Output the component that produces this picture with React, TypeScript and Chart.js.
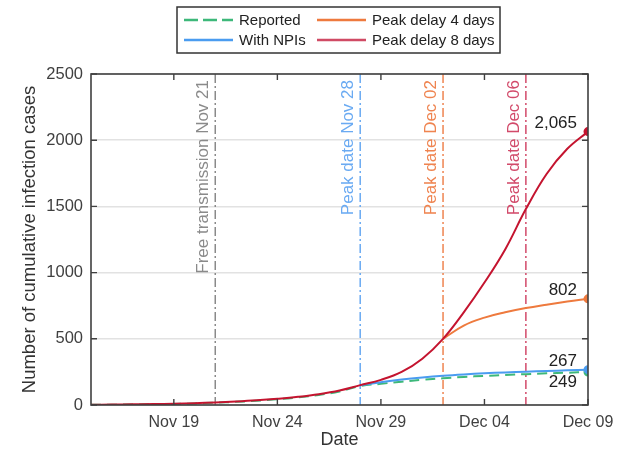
import React, { useEffect, useRef } from "react";
import { Chart, registerables } from "chart.js";

Chart.register(...registerables);

// ---------- data ----------
const dates = [
  "Nov 15", "Nov 16", "Nov 17", "Nov 18", "Nov 19", "Nov 20", "Nov 21", "Nov 22",
  "Nov 23", "Nov 24", "Nov 25", "Nov 26", "Nov 27", "Nov 28", "Nov 29", "Nov 30",
  "Dec 01", "Dec 02", "Dec 03", "Dec 04", "Dec 05", "Dec 06", "Dec 07", "Dec 08", "Dec 09",
];
const tickLabels = ["Nov 19", "Nov 24", "Nov 29", "Dec 04", "Dec 09"];
const yTickStep = 500;
const yMax = 2500;

const reported = [
  1, 2, 4, 6, 8, 12, 17, 24, 32, 43, 57, 76, 102, 143, 160, 176,
  190, 202, 212, 220, 227, 233, 239, 244, 249,
];
const withNPIs = [
  null, null, null, null, null, null, null, null, null, null, null, null, null, 150, 172, 192,
  208, 221, 231, 239, 246, 252, 257, 262, 267,
];
const peakDelay4 = [
  null, null, null, null, null, null, null, null, null, null, null, null, null, null, null, null,
  null, 500, 600, 660, 700, 732, 758, 782, 802,
];
const peakDelay8 = [
  1, 3, 5, 7, 10, 14, 19, 26, 35, 47, 62, 82, 110, 150, 190, 250,
  350, 500, 700, 925, 1175, 1480, 1745, 1935, 2065,
];

const eventDates = ["Nov 21", "Nov 28", "Dec 02", "Dec 06"];
const eventLabels = ["Free transmission Nov 21", "Peak date Nov 28", "Peak date Dec 02", "Peak date Dec 06"];

// ---------- styles ----------
const FONT = '"Liberation Sans", Arial, sans-serif';
const C_GREEN = "#3db87a";
const C_BLUE = "#4a9cf0";
const C_ORANGE = "#ee7a3e";
const C_RED = "#c4142f";
const eventColors = ["#8a8a8a", "#6aaaf2", "#ef8450", "#d24a6a"];
const endLabelBelow = [true, false, false, false]; // reported, NPIs, d4, d8

const toXY = (arr: (number | null)[]) => arr.map((v, i) => ({ x: i, y: v }));

export default function App() {
  const ref = useRef<HTMLCanvasElement | null>(null);

  useEffect(() => {
    document.body.style.margin = "0";
    const canvas = ref.current!;
    const last = dates.length - 1;

    const eventPlugin = {
      id: "eventLines",
      beforeDatasetsDraw(chart: any) {
        const { ctx, chartArea } = chart;
        const xs = chart.scales.x;
        eventDates.forEach((d, k) => {
          const px = xs.getPixelForValue(dates.indexOf(d));
          ctx.save();
          ctx.strokeStyle = eventColors[k];
          ctx.lineWidth = 1.5;
          ctx.setLineDash([9, 3, 2, 3]);
          ctx.beginPath();
          ctx.moveTo(px, chartArea.top);
          ctx.lineTo(px, chartArea.bottom);
          ctx.stroke();
          ctx.setLineDash([]);
          ctx.translate(px - 7, chartArea.top + 6);
          ctx.rotate(-Math.PI / 2);
          ctx.fillStyle = eventColors[k];
          ctx.font = `17px ${FONT}`;
          ctx.textAlign = "right";
          ctx.textBaseline = "alphabetic";
          ctx.fillText(eventLabels[k], 0, 0);
          ctx.restore();
        });
      },
    };

    const endLabelPlugin = {
      id: "endLabels",
      afterDatasetsDraw(chart: any) {
        const { ctx } = chart;
        const xs = chart.scales.x;
        const ys = chart.scales.y;
        const series = [reported, withNPIs, peakDelay4, peakDelay8];
        ctx.save();
        ctx.font = `17px ${FONT}`;
        ctx.fillStyle = "#222";
        ctx.textAlign = "right";
        series.forEach((s, k) => {
          const v = s[last] as number;
          const px = xs.getPixelForValue(last);
          const py = ys.getPixelForValue(v);
          const txt = v.toLocaleString("en-US");
          if (endLabelBelow[k]) {
            ctx.textBaseline = "top";
            ctx.fillText(txt, px - 11, py + 2);
          } else {
            ctx.textBaseline = "alphabetic";
            ctx.fillText(txt, px - 11, py - 4);
          }
        });
        ctx.restore();
      },
    };

    const framePlugin = {
      id: "frame",
      afterDraw(chart: any) {
        const { ctx, chartArea } = chart;
        const { left, right, top, bottom } = chartArea;
        const xs = chart.scales.x;
        const ys = chart.scales.y;
        ctx.save();
        ctx.strokeStyle = "#404040";
        ctx.lineWidth = 1.6;
        ctx.strokeRect(left, top, right - left, bottom - top);
        ctx.lineWidth = 1.4;
        const tl = 6;
        ctx.beginPath();
        xs.ticks.forEach((t: any) => {
          const px = xs.getPixelForValue(t.value);
          ctx.moveTo(px, bottom);
          ctx.lineTo(px, bottom - tl);
          ctx.moveTo(px, top);
          ctx.lineTo(px, top + tl);
        });
        ys.ticks.forEach((t: any) => {
          const py = ys.getPixelForValue(t.value);
          ctx.moveTo(left, py);
          ctx.lineTo(left + tl, py);
          ctx.moveTo(right, py);
          ctx.lineTo(right - tl, py);
        });
        ctx.stroke();
        ctx.restore();

        // legend
        const items = [
          { label: "Reported", color: C_GREEN, dash: [14, 5], col: 0, row: 0 },
          { label: "With NPIs", color: C_BLUE, dash: [], col: 0, row: 1 },
          { label: "Peak delay 4 days", color: C_ORANGE, dash: [], col: 1, row: 0 },
          { label: "Peak delay 8 days", color: "#d04a64", dash: [], col: 1, row: 1 },
        ];
        const boxL = 177, boxT = 7, boxW = 323, boxH = 46;
        ctx.save();
        ctx.fillStyle = "#fff";
        ctx.fillRect(boxL, boxT, boxW, boxH);
        ctx.strokeStyle = "#333";
        ctx.lineWidth = 1.5;
        ctx.strokeRect(boxL, boxT, boxW, boxH);
        const colX = [boxL + 7, boxL + 140];
        const rowY = [boxT + 13, boxT + 33];
        ctx.font = `15px ${FONT}`;
        ctx.textBaseline = "middle";
        ctx.textAlign = "left";
        items.forEach((it) => {
          const x0 = colX[it.col];
          const y0 = rowY[it.row];
          ctx.strokeStyle = it.color;
          ctx.lineWidth = 2.5;
          ctx.setLineDash(it.dash);
          ctx.beginPath();
          ctx.moveTo(x0, y0);
          ctx.lineTo(x0 + 49, y0);
          ctx.stroke();
          ctx.setLineDash([]);
          ctx.fillStyle = "#222";
          ctx.fillText(it.label, x0 + 55, y0 + 1);
        });
        ctx.restore();
      },
    };

    const endRadius = (c: any) => (c.dataIndex === last ? 3.5 : 0);
    const common = {
      borderWidth: 2,
      tension: 0.4,
      pointRadius: endRadius,
      pointHoverRadius: 0,
      spanGaps: false,
    };

    const chart = new Chart(canvas, {
      type: "line",
      data: {
        datasets: [
          { ...common, label: "Peak delay 8 days", data: toXY(peakDelay8), borderColor: C_RED, backgroundColor: C_RED },
          { ...common, label: "Peak delay 4 days", data: toXY(peakDelay4), borderColor: C_ORANGE, backgroundColor: C_ORANGE },
          { ...common, label: "With NPIs", data: toXY(withNPIs), borderColor: C_BLUE, backgroundColor: C_BLUE },
          { ...common, label: "Reported", data: toXY(reported), borderColor: C_GREEN, backgroundColor: C_GREEN, borderDash: [10, 6] },
        ] as any,
      },
      options: {
        responsive: false,
        animation: false,
        layout: { padding: { top: 74, right: 44, bottom: 0, left: 0 } },
        plugins: { legend: { display: false }, tooltip: { enabled: false } },
        scales: {
          x: {
            type: "linear",
            min: 0,
            max: last,
            afterBuildTicks: (s: any) => {
              s.ticks = tickLabels.map((l) => ({ value: dates.indexOf(l) }));
            },
            afterFit: (s: any) => {
              s.height = 52;
            },
            ticks: {
              autoSkip: false,
              maxRotation: 0,
              padding: 8,
              color: "#404040",
              font: { family: FONT, size: 16 },
              callback: (v: any) => dates[v as number],
            },
            grid: { display: false, drawTicks: false, tickLength: 0 },
            border: { display: false },
            title: {
              display: true,
              text: "Date",
              color: "#333",
              font: { family: FONT, size: 18 },
              padding: { top: 0, bottom: 6 },
            },
          },
          y: {
            min: 0,
            max: yMax,
            afterFit: (s: any) => {
              s.width = 91;
            },
            ticks: {
              stepSize: yTickStep,
              padding: 8,
              color: "#404040",
              font: { family: FONT, size: 16.5 },
              callback: (v: any) => String(v),
            },
            grid: { color: "#e2e2e2", lineWidth: 1.5, drawTicks: false },
            border: { display: false },
            title: {
              display: true,
              text: "Number of cumulative infection cases",
              color: "#333",
              font: { family: FONT, size: 18.5 },
              padding: { top: 19, bottom: 0 },
            },
          },
        },
      },
      plugins: [eventPlugin, endLabelPlugin, framePlugin],
    });
    return () => chart.destroy();
  }, []);

  return (
    <div style={{ width: 632, height: 457, background: "#fff" }}>
      <canvas ref={ref} width={632} height={457} />
    </div>
  );
}
